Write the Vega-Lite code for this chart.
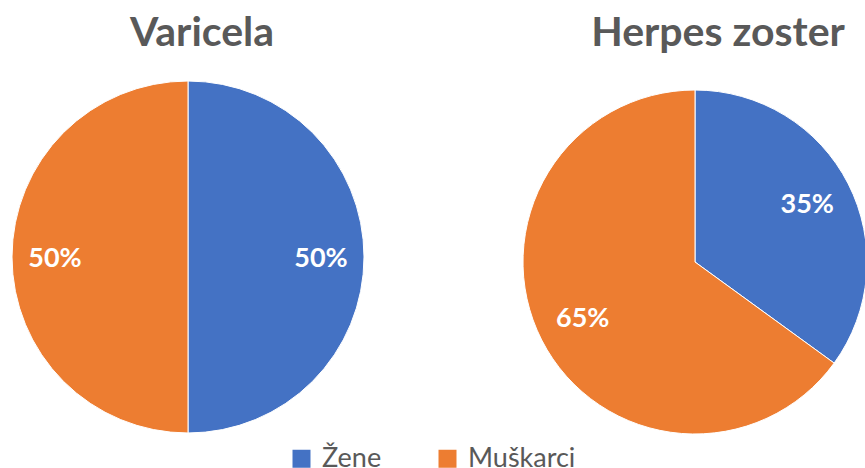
{
  "$schema": "https://vega.github.io/schema/vega-lite/v6.json",
  "padding": {"top": 13, "left": 0, "right": 0, "bottom": 0},
  "background": "white",
  "datasets": {
    "d": [
      {"chart": "Varicela", "spol": "Žene", "share": 0.5},
      {"chart": "Varicela", "spol": "Muškarci", "share": 0.5},
      {"chart": "Herpes zoster", "spol": "Žene", "share": 0.35},
      {"chart": "Herpes zoster", "spol": "Muškarci", "share": 0.65}
    ]
  },
  "spacing": 145,
  "hconcat": [
    {
      "data": {"name": "d"},
      "transform": [{"filter": "datum.chart === 'Varicela'"}],
      "width": 376,
      "height": 394,
      "title": {"text": "Varicela", "dx": 14},
      "encoding": {
        "theta": {"field": "share", "type": "quantitative", "stack": true},
        "order": {"field": "spol", "sort": "descending"}
      },
      "layer": [
        {
          "mark": {"type": "arc", "outerRadius": 176, "stroke": "white", "strokeWidth": 1},
          "encoding": {
            "color": {"field": "spol", "type": "nominal", "title": null,
              "scale": {"domain": ["Žene", "Muškarci"], "range": ["#4472C4", "#ED7D31"]}}
          }
        },
        {
          "mark": {"type": "text", "radius": 133, "font": "Lato", "fontWeight": "bold", "fontSize": 27, "fill": "white", "dy": 2},
          "encoding": {"text": {"field": "share", "type": "quantitative", "format": ".0%"}}
        }
      ]
    },
    {
      "data": {"name": "d"},
      "transform": [{"filter": "datum.chart === 'Herpes zoster'"}],
      "width": 344,
      "height": 404,
      "title": {"text": "Herpes zoster", "dx": 23},
      "encoding": {
        "theta": {"field": "share", "type": "quantitative", "stack": true},
        "order": {"field": "spol", "sort": "descending"}
      },
      "layer": [
        {
          "mark": {"type": "arc", "outerRadius": 172, "stroke": "white", "strokeWidth": 1},
          "encoding": {
            "color": {"field": "spol", "type": "nominal", "title": null,
              "scale": {"domain": ["Žene", "Muškarci"], "range": ["#4472C4", "#ED7D31"]}}
          }
        },
        {
          "mark": {"type": "text", "radius": 126, "font": "Lato", "fontWeight": "bold", "fontSize": 27, "fill": "white"},
          "encoding": {"text": {"field": "share", "type": "quantitative", "format": ".0%"}}
        }
      ]
    }
  ],
  "resolve": {"scale": {"color": "shared"}},
  "config": {
    "view": {"stroke": null},
    "title": {"font": "Lato", "fontSize": 41, "fontWeight": "bold", "color": "#595959", "anchor": "middle", "offset": 5},
    "legend": {
      "orient": "none",
      "legendX": 288,
      "legendY": 385,
      "padding": 0,
      "direction": "horizontal",
      "symbolType": "square",
      "symbolSize": 324,
      "symbolStrokeWidth": 0,
      "symbolOffset": 0,
      "labelFont": "Lato",
      "labelFontSize": 27,
      "labelColor": "#595959",
      "labelOffset": 7,
      "columnPadding": 52,
      "labelLimit": 300
    }
  }
}
